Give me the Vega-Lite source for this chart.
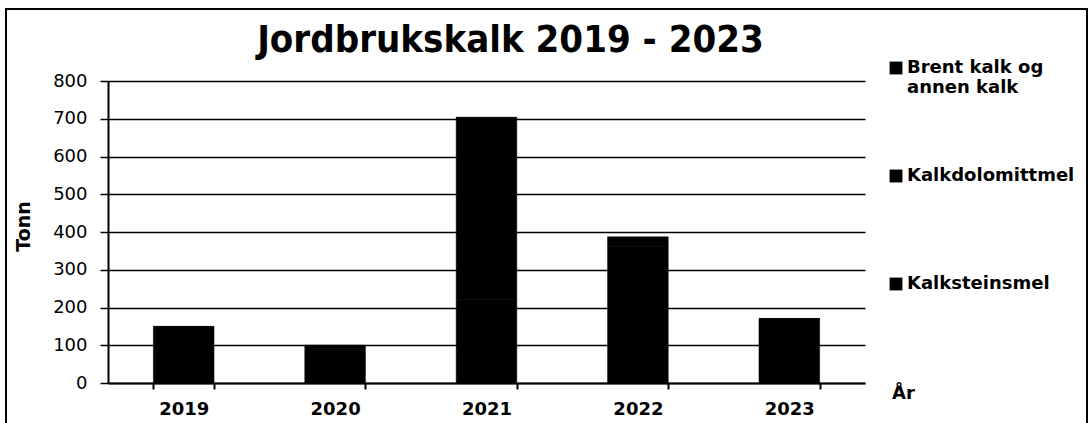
{
  "$schema": "https://vega.github.io/schema/vega-lite/v6.json",
  "width": 1081,
  "height": 430,
  "autosize": "none",
  "padding": {"left": 6, "top": 9, "right": 2, "bottom": 0},
  "background": "white",
  "title": {
    "text": "Jordbrukskalk 2019 - 2023",
    "font": "DejaVu Sans Condensed",
    "fontWeight": "bold",
    "fontSize": 38,
    "color": "black",
    "frame": "group",
    "anchor": "middle",
    "dx": -36,
    "dy": 38,
    "offset": -43,
    "baseline": "alphabetic"
  },
  "data": {
    "values": [
      {"year": "2019", "serie": "Kalksteinsmel", "tonn": 149},
      {"year": "2019", "serie": "Kalkdolomittmel", "tonn": 0},
      {"year": "2019", "serie": "Brent kalk og annen kalk", "tonn": 1},
      {"year": "2020", "serie": "Kalksteinsmel", "tonn": 99},
      {"year": "2020", "serie": "Kalkdolomittmel", "tonn": 0},
      {"year": "2020", "serie": "Brent kalk og annen kalk", "tonn": 1},
      {"year": "2021", "serie": "Kalksteinsmel", "tonn": 222},
      {"year": "2021", "serie": "Kalkdolomittmel", "tonn": 480},
      {"year": "2021", "serie": "Brent kalk og annen kalk", "tonn": 2},
      {"year": "2022", "serie": "Kalksteinsmel", "tonn": 361},
      {"year": "2022", "serie": "Kalkdolomittmel", "tonn": 25},
      {"year": "2022", "serie": "Brent kalk og annen kalk", "tonn": 1},
      {"year": "2023", "serie": "Kalksteinsmel", "tonn": 170},
      {"year": "2023", "serie": "Kalkdolomittmel", "tonn": 0},
      {"year": "2023", "serie": "Brent kalk og annen kalk", "tonn": 1}
    ]
  },
  "mark": {"type": "bar", "stroke": "black", "strokeWidth": 0.6},
  "encoding": {
    "x": {
      "field": "year",
      "type": "ordinal",
      "scale": {"range": [102, 859], "paddingInner": 0.6, "paddingOuter": 0.3},
      "axis": {
        "title": "År",
        "orient": "bottom",
        "offset": -56,
        "labelAngle": 0,
        "labelFont": "DejaVu Sans",
        "labelFontWeight": "bold",
        "labelFontSize": 18,
        "labelColor": "black",
        "labelPadding": 11,
        "tickBand": "extent",
        "tickSize": 6,
        "tickColor": "black",
        "tickWidth": 2,
        "domainColor": "black",
        "domainWidth": 2,
        "grid": false,
        "titleX": 897,
        "titleY": 10,
        "titleAlign": "center",
        "titleBaseline": "middle",
        "titleFont": "DejaVu Sans",
        "titleFontWeight": "bold",
        "titleFontSize": 18,
        "titleColor": "black"
      }
    },
    "y": {
      "field": "tonn",
      "type": "quantitative",
      "stack": "zero",
      "scale": {"domain": [0, 800], "range": [374, 72], "nice": false},
      "axis": {
        "title": "Tonn",
        "orient": "left",
        "offset": -102,
        "values": [0, 100, 200, 300, 400, 500, 600, 700, 800],
        "grid": true,
        "gridColor": "black",
        "gridWidth": 1.5,
        "gridOpacity": 1,
        "domainColor": "black",
        "domainWidth": 2,
        "tickColor": "black",
        "tickWidth": 1.5,
        "tickSize": 8,
        "labelFont": "DejaVu Sans",
        "labelFontSize": 18,
        "labelColor": "black",
        "labelPadding": 13,
        "titleX": -85,
        "titleY": 217,
        "titleAngle": -90,
        "titleAlign": "center",
        "titleBaseline": "middle",
        "titleFont": "DejaVu Sans",
        "titleFontWeight": "bold",
        "titleFontSize": 19,
        "titleColor": "black"
      }
    },
    "color": {
      "field": "serie",
      "type": "nominal",
      "scale": {
        "domain": ["Brent kalk og annen kalk", "Kalkdolomittmel", "Kalksteinsmel"],
        "range": ["black", "black", "black"]
      },
      "legend": {
        "orient": "none",
        "legendX": 881,
        "legendY": 50,
        "title": null,
        "padding": 0,
        "gridAlign": "all",
        "symbolType": "square",
        "symbolSize": 165,
        "symbolStrokeWidth": 0,
        "symbolOpacity": 1,
        "labelFont": "DejaVu Sans",
        "labelFontWeight": "bold",
        "labelFontSize": 18,
        "labelColor": "black",
        "labelOffset": 2,
        "labelLimit": 0,
        "rowPadding": 70,
        "labelExpr": "datum.label == 'Brent kalk og annen kalk' ? ['Brent kalk og', 'annen kalk'] : datum.label"
      }
    },
    "order": {"field": "serie", "sort": "descending"}
  },
  "config": {"view": {"stroke": "black", "strokeWidth": 2}}
}
